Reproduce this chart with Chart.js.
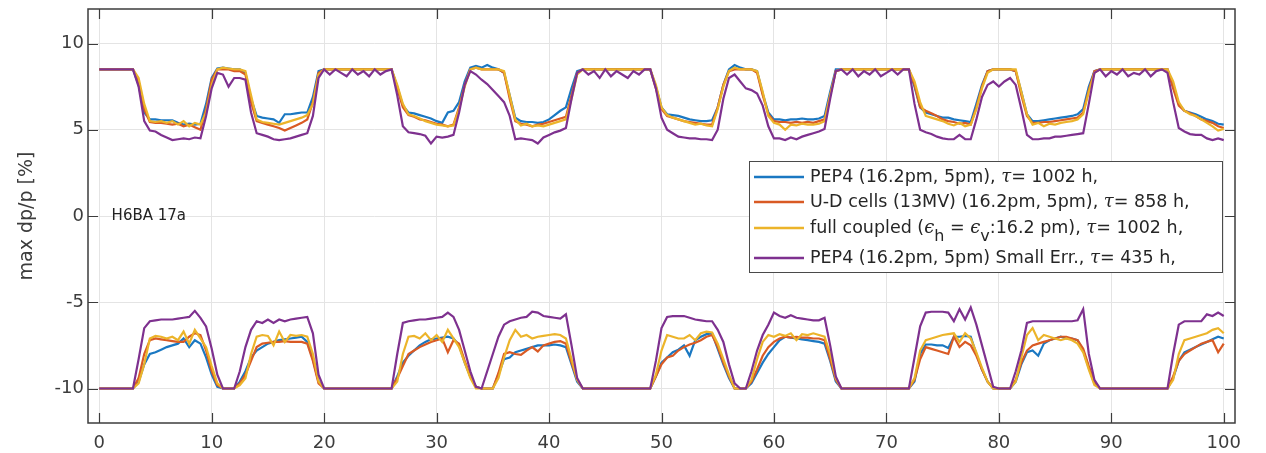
<!DOCTYPE html>
<html>
<head>
<meta charset="utf-8">
<script src="https://cdn.jsdelivr.net/npm/chart.js@4.4.0/dist/chart.umd.min.js"></script>
<style>
  html, body { margin: 0; padding: 0; background: #fff; }
  #wrap { width: 1266px; height: 453px; position: relative; }
</style>
</head>
<body>
<div id="wrap"><canvas id="chart"></canvas></div>
<script>
// Position along the lattice
const positions = [
  0,0.5,1,1.5,2,2.5,3,3.5,4,4.5,5,5.5,6,6.5,7,7.5,8,8.5,9,9.5,
  10,10.5,11,11.5,12,12.5,13,13.5,14,14.5,15,15.5,16,16.5,17,17.5,18,18.5,19,19.5,
  20,20.5,21,21.5,22,22.5,23,23.5,24,24.5,25,25.5,26,26.5,27,27.5,28,28.5,29,29.5,
  30,30.5,31,31.5,32,32.5,33,33.5,34,34.5,35,35.5,36,36.5,37,37.5,38,38.5,39,39.5,
  40,40.5,41,41.5,42,42.5,43,43.5,44,44.5,45,45.5,46,46.5,47,47.5,48,48.5,49,49.5,
  50,50.5,51,51.5,52,52.5,53,53.5,54,54.5,55,55.5,56,56.5,57,57.5,58,58.5,59,59.5,
  60,60.5,61,61.5,62,62.5,63,63.5,64,64.5,65,65.5,66,66.5,67,67.5,68,68.5,69,69.5,
  70,70.5,71,71.5,72,72.5,73,73.5,74,74.5,75,75.5,76,76.5,77,77.5,78,78.5,79,79.5,
  80,80.5,81,81.5,82,82.5,83,83.5,84,84.5,85,85.5,86,86.5,87,87.5,88,88.5,89,89.5,
  90,90.5,91,91.5,92,92.5,93,93.5,94,94.5,95,95.5,96,96.5,97,97.5,98,98.5,99,99.5,
  100
];

const xTicks = [0, 10, 20, 30, 40, 50, 60, 70, 80, 90, 100];
const yTicks = [-10, -5, 0, 5, 10];

const seriesNames = [
  'PEP4 (16.2pm, 5pm), τ= 1002 h,',
  'U-D cells (13MV) (16.2pm, 5pm), τ= 858 h,',
  'full coupled (ϵ_h = ϵ_v:16.2 pm), τ= 1002 h,',
  'PEP4 (16.2pm, 5pm) Small Err., τ= 435 h,'
];
const seriesColors = ['#1a78c2', '#d95a24', '#ecb42a', '#7e318f'];

const plotNote = { x: 1.1, y: 0, text: 'H6BA 17a' };

// positive momentum acceptance
const pep4Upper = [
  8.5,8.5,8.5,8.5,8.5,8.5,8.5,7.6,6.0,5.6,5.6,5.55,5.55,5.55,5.4,5.3,5.35,5.3,5.35,6.5,
  8.0,8.55,8.6,8.55,8.5,8.5,8.3,6.8,5.8,5.7,5.65,5.6,5.4,5.9,5.9,5.95,6.0,6.0,6.9,8.4,
  8.5,8.5,8.5,8.5,8.5,8.5,8.5,8.5,8.5,8.5,8.5,8.5,8.5,7.5,6.4,6.0,5.95,5.85,5.75,5.65,
  5.5,5.4,6.0,6.1,6.6,7.8,8.6,8.7,8.6,8.75,8.6,8.5,8.3,7.0,5.7,5.5,5.45,5.45,5.4,5.45,
  5.6,5.85,6.1,6.3,7.4,8.4,8.5,8.5,8.5,8.5,8.5,8.5,8.5,8.5,8.5,8.5,8.5,8.5,8.5,7.5,
  6.3,5.9,5.85,5.8,5.7,5.6,5.55,5.5,5.5,5.55,6.3,7.6,8.5,8.75,8.6,8.5,8.5,8.4,7.1,6.0,
  5.6,5.6,5.55,5.6,5.6,5.65,5.6,5.6,5.65,5.8,7.2,8.5,8.5,8.5,8.5,8.5,8.5,8.5,8.5,8.5,
  8.5,8.5,8.5,8.5,8.5,7.5,6.3,6.0,5.9,5.8,5.7,5.7,5.6,5.55,5.5,5.45,6.5,7.6,8.4,8.5,
  8.5,8.5,8.5,8.4,7.2,5.9,5.5,5.5,5.55,5.6,5.65,5.7,5.75,5.8,5.9,6.2,7.5,8.4,8.5,8.5,
  8.5,8.5,8.5,8.5,8.5,8.5,8.5,8.5,8.5,8.5,8.5,7.5,6.5,6.1,6.0,5.9,5.75,5.6,5.5,5.35,
  5.3
];
const udCellsUpper = [
  8.5,8.5,8.5,8.5,8.5,8.5,8.5,7.8,6.2,5.45,5.4,5.4,5.35,5.3,5.35,5.2,5.3,5.15,5.0,6.2,
  7.9,8.5,8.5,8.5,8.4,8.4,8.2,6.6,5.5,5.4,5.3,5.2,5.1,4.95,5.1,5.25,5.4,5.6,6.6,8.3,
  8.5,8.5,8.5,8.5,8.5,8.5,8.5,8.5,8.5,8.5,8.5,8.5,8.5,7.4,6.3,5.85,5.75,5.6,5.55,5.45,
  5.35,5.3,5.2,5.3,6.3,7.6,8.5,8.6,8.5,8.5,8.5,8.5,8.3,6.8,5.5,5.35,5.3,5.2,5.3,5.35,
  5.45,5.55,5.65,5.75,7.0,8.3,8.5,8.5,8.5,8.5,8.5,8.5,8.5,8.5,8.5,8.5,8.5,8.5,8.5,7.4,
  6.2,5.8,5.7,5.6,5.5,5.45,5.4,5.35,5.3,5.3,6.3,7.6,8.4,8.5,8.5,8.5,8.5,8.3,7.0,5.9,
  5.5,5.45,5.45,5.4,5.45,5.4,5.45,5.4,5.5,5.6,7.0,8.4,8.5,8.5,8.5,8.5,8.5,8.5,8.5,8.5,
  8.5,8.5,8.5,8.5,8.5,7.6,6.3,6.1,5.95,5.8,5.6,5.5,5.45,5.35,5.4,5.3,6.3,7.5,8.4,8.5,
  8.5,8.5,8.5,8.4,7.0,5.8,5.4,5.4,5.45,5.45,5.5,5.55,5.6,5.65,5.7,6.0,7.3,8.4,8.5,8.5,
  8.5,8.5,8.5,8.5,8.5,8.5,8.5,8.5,8.5,8.5,8.5,7.4,6.4,6.1,5.95,5.8,5.6,5.5,5.4,5.2,
  5.1
];
const fullCoupledUpper = [
  8.5,8.5,8.5,8.5,8.5,8.5,8.5,8.0,6.5,5.5,5.45,5.5,5.4,5.5,5.3,5.5,5.2,5.4,5.3,6.0,
  7.6,8.5,8.6,8.55,8.5,8.5,8.4,7.0,5.6,5.45,5.4,5.35,5.3,5.4,5.5,5.6,5.7,5.85,6.5,8.2,
  8.5,8.5,8.5,8.5,8.5,8.5,8.5,8.5,8.5,8.5,8.5,8.5,8.5,7.6,6.5,5.9,5.8,5.65,5.5,5.4,
  5.3,5.25,5.2,5.25,6.2,7.5,8.5,8.6,8.5,8.5,8.5,8.5,8.4,7.0,5.6,5.25,5.35,5.2,5.25,5.2,
  5.3,5.4,5.5,5.6,6.8,8.2,8.5,8.5,8.5,8.5,8.5,8.5,8.5,8.5,8.5,8.5,8.5,8.5,8.5,7.6,
  6.3,5.85,5.7,5.6,5.5,5.4,5.3,5.35,5.25,5.2,6.2,7.5,8.4,8.6,8.5,8.5,8.5,8.4,7.2,5.8,
  5.4,5.3,5.0,5.3,5.25,5.35,5.3,5.3,5.35,5.5,7.0,8.4,8.5,8.5,8.5,8.5,8.5,8.5,8.5,8.5,
  8.5,8.5,8.5,8.5,8.5,7.8,6.6,5.8,5.7,5.6,5.5,5.35,5.25,5.4,5.2,5.3,6.2,7.4,8.3,8.5,
  8.5,8.5,8.5,8.5,7.2,5.9,5.3,5.4,5.2,5.35,5.3,5.4,5.45,5.5,5.6,5.9,7.2,8.3,8.5,8.5,
  8.5,8.5,8.5,8.5,8.5,8.5,8.5,8.5,8.5,8.5,8.5,7.8,6.6,6.1,5.9,5.8,5.6,5.4,5.2,4.95,
  5.05
];
const smallErrUpper = [
  8.5,8.5,8.5,8.5,8.5,8.5,8.5,7.5,5.5,4.95,4.9,4.7,4.55,4.4,4.45,4.5,4.45,4.55,4.5,5.8,
  7.4,8.3,8.2,7.5,8.0,8.0,7.9,6.0,4.8,4.7,4.6,4.45,4.4,4.45,4.5,4.6,4.7,4.8,5.8,8.0,
  8.5,8.2,8.5,8.3,8.1,8.5,8.2,8.4,8.1,8.5,8.2,8.4,8.5,7.0,5.2,4.85,4.8,4.75,4.65,4.2,
  4.6,4.55,4.6,4.7,6.0,7.6,8.4,8.2,7.9,7.65,7.3,6.95,6.6,5.8,4.45,4.5,4.45,4.4,4.2,4.55,
  4.7,4.85,4.95,5.1,6.8,8.3,8.5,8.2,8.4,8.0,8.5,8.1,8.4,8.2,8.0,8.4,8.2,8.5,8.5,7.4,
  5.7,5.0,4.8,4.6,4.55,4.5,4.5,4.45,4.45,4.4,5.0,6.8,8.0,8.2,7.8,7.4,7.3,7.1,6.4,5.2,
  4.5,4.5,4.4,4.55,4.45,4.6,4.7,4.8,4.9,5.05,6.8,8.4,8.5,8.2,8.5,8.1,8.4,8.2,8.5,8.1,
  8.3,8.5,8.2,8.5,8.5,6.5,5.0,4.85,4.75,4.6,4.5,4.45,4.45,4.7,4.45,4.45,5.6,6.9,7.6,7.8,
  7.5,7.8,8.0,7.6,6.2,4.7,4.45,4.45,4.5,4.5,4.6,4.6,4.65,4.7,4.75,4.8,6.5,8.3,8.5,8.1,
  8.4,8.2,8.5,8.1,8.3,8.2,8.5,8.1,8.4,8.5,8.3,6.6,5.1,4.9,4.75,4.7,4.7,4.5,4.4,4.5,
  4.4
];

// negative momentum acceptance
const pep4Lower = [
  -10,-10,-10,-10,-10,-10,-10,-9.6,-8.6,-8.0,-7.9,-7.75,-7.6,-7.5,-7.4,-7.1,-7.6,-7.2,-7.4,-8.2,
  -9.2,-9.9,-10,-10,-10,-9.6,-9.0,-8.2,-7.8,-7.6,-7.4,-7.3,-7.2,-7.15,-7.1,-7.05,-7.0,-7.3,-8.3,-9.6,
  -10,-10,-10,-10,-10,-10,-10,-10,-10,-10,-10,-10,-10,-9.3,-8.5,-8.1,-7.8,-7.5,-7.3,-7.15,
  -7.1,-7.05,-7.0,-7.1,-7.5,-8.5,-9.3,-9.9,-10,-10,-10,-9.2,-8.3,-8.2,-7.9,-7.8,-7.7,-7.6,-7.5,-7.5,
  -7.5,-7.45,-7.5,-7.6,-8.6,-9.6,-10,-10,-10,-10,-10,-10,-10,-10,-10,-10,-10,-10,-10,-9.3,
  -8.5,-8.2,-7.9,-7.75,-7.5,-8.1,-7.2,-7.0,-6.85,-6.8,-7.7,-8.6,-9.4,-10,-10,-10,-9.7,-9.1,-8.5,-8.0,
  -7.6,-7.2,-7.0,-7.05,-7.1,-7.15,-7.2,-7.25,-7.3,-7.4,-8.4,-9.6,-10,-10,-10,-10,-10,-10,-10,-10,
  -10,-10,-10,-10,-10,-9.6,-8.0,-7.45,-7.45,-7.5,-7.5,-7.65,-7.0,-7.0,-6.95,-7.0,-8.0,-8.9,-9.6,-10,
  -10,-10,-10,-9.6,-8.6,-7.9,-7.8,-8.1,-7.4,-7.2,-7.1,-7.0,-7.1,-7.1,-7.2,-7.8,-8.8,-9.7,-10,-10,
  -10,-10,-10,-10,-10,-10,-10,-10,-10,-10,-10,-9.4,-8.4,-7.9,-7.75,-7.6,-7.45,-7.3,-7.15,-7.0,
  -7.1
];
const udCellsLower = [
  -10,-10,-10,-10,-10,-10,-10,-9.4,-8.0,-7.2,-7.1,-7.15,-7.2,-7.25,-7.3,-7.3,-7.0,-6.8,-6.9,-7.8,
  -9.0,-9.8,-10,-10,-10,-9.7,-9.2,-8.4,-7.6,-7.4,-7.35,-7.3,-7.3,-7.25,-7.3,-7.3,-7.3,-7.4,-8.4,-9.7,
  -10,-10,-10,-10,-10,-10,-10,-10,-10,-10,-10,-10,-10,-9.4,-8.7,-8.0,-7.8,-7.6,-7.45,-7.3,
  -7.2,-7.1,-7.9,-7.2,-7.4,-8.4,-9.3,-9.9,-10,-10,-10,-9.1,-8.0,-7.9,-8.0,-8.05,-7.8,-7.6,-7.85,-7.5,
  -7.4,-7.3,-7.25,-7.4,-8.5,-9.5,-10,-10,-10,-10,-10,-10,-10,-10,-10,-10,-10,-10,-10,-9.3,
  -8.6,-8.2,-8.1,-7.8,-7.6,-7.45,-7.35,-7.2,-7.0,-6.9,-7.6,-8.5,-9.3,-10,-10,-10,-9.6,-8.9,-8.1,-7.6,
  -7.3,-7.1,-7.0,-7.05,-7.0,-7.05,-7.05,-7.1,-7.1,-7.2,-8.3,-9.5,-10,-10,-10,-10,-10,-10,-10,-10,
  -10,-10,-10,-10,-10,-9.5,-8.3,-7.6,-7.7,-7.8,-7.9,-8.0,-7.0,-7.6,-7.3,-7.5,-8.1,-8.9,-9.6,-10,
  -10,-10,-10,-9.5,-8.5,-7.8,-7.5,-7.4,-7.3,-7.2,-7.1,-7.0,-7.0,-7.1,-7.2,-7.7,-8.7,-9.6,-10,-10,
  -10,-10,-10,-10,-10,-10,-10,-10,-10,-10,-10,-9.3,-8.4,-8.0,-7.8,-7.6,-7.4,-7.3,-7.2,-7.9,
  -7.4
];
const fullCoupledLower = [
  -10,-10,-10,-10,-10,-10,-10,-9.7,-8.6,-7.1,-6.95,-7.0,-7.1,-7.0,-7.2,-6.7,-7.4,-6.6,-7.1,-7.6,
  -8.7,-9.7,-10,-10,-10,-9.8,-9.4,-8.0,-7.0,-6.9,-6.95,-7.5,-6.7,-7.3,-6.9,-6.95,-6.9,-7.0,-8.0,-9.6,
  -10,-10,-10,-10,-10,-10,-10,-10,-10,-10,-10,-10,-10,-9.6,-8.0,-7.0,-6.95,-7.1,-6.8,-7.2,
  -6.9,-7.3,-6.6,-7.1,-7.6,-8.5,-9.4,-10,-10,-10,-10,-9.4,-8.2,-7.2,-6.6,-7.0,-6.9,-7.1,-7.0,-6.95,
  -6.9,-6.85,-6.9,-7.1,-8.3,-9.5,-10,-10,-10,-10,-10,-10,-10,-10,-10,-10,-10,-10,-10,-9.2,
  -7.8,-6.9,-7.0,-7.1,-7.1,-6.9,-7.2,-6.8,-6.7,-6.75,-7.4,-8.3,-9.2,-10,-10,-10,-9.5,-8.3,-7.3,-6.9,
  -7.0,-6.85,-6.95,-6.8,-7.2,-6.85,-6.9,-6.8,-6.9,-7.0,-8.0,-9.4,-10,-10,-10,-10,-10,-10,-10,-10,
  -10,-10,-10,-10,-10,-9.4,-7.8,-7.2,-7.1,-7.0,-6.9,-6.85,-6.8,-7.3,-6.8,-7.1,-7.9,-8.8,-9.6,-10,
  -10,-10,-10,-9.6,-8.2,-6.9,-6.5,-7.2,-6.9,-7.0,-7.1,-7.2,-7.1,-7.2,-7.4,-7.9,-8.9,-9.8,-10,-10,
  -10,-10,-10,-10,-10,-10,-10,-10,-10,-10,-10,-9.5,-8.0,-7.2,-7.1,-7.0,-6.9,-6.8,-6.6,-6.5,
  -6.8
];
const smallErrLower = [
  -10,-10,-10,-10,-10,-10,-10,-8.3,-6.5,-6.1,-6.05,-6.0,-6.0,-6.0,-5.95,-5.9,-5.85,-5.5,-5.9,-6.4,
  -7.7,-9.2,-10,-10,-10,-9.0,-7.6,-6.6,-6.1,-6.2,-6.0,-6.2,-6.0,-6.1,-6.0,-5.95,-5.9,-5.85,-6.8,-9.2,
  -10,-10,-10,-10,-10,-10,-10,-10,-10,-10,-10,-10,-10,-8.0,-6.2,-6.1,-6.05,-6.0,-6.0,-5.95,
  -5.9,-5.85,-5.6,-5.85,-6.6,-7.8,-9.0,-9.9,-10,-9.0,-8.0,-7.0,-6.3,-6.1,-6.0,-5.9,-5.85,-5.55,-5.6,-5.8,
  -5.85,-5.9,-5.95,-5.7,-7.5,-9.4,-10,-10,-10,-10,-10,-10,-10,-10,-10,-10,-10,-10,-10,-8.4,
  -6.5,-5.85,-5.8,-5.8,-5.8,-5.9,-6.0,-6.05,-6.1,-6.1,-6.6,-7.3,-8.6,-9.7,-10,-10,-9.0,-7.8,-6.9,-6.3,
  -5.6,-5.8,-5.9,-5.75,-5.9,-5.95,-6.0,-6.05,-6.05,-5.9,-7.5,-9.3,-10,-10,-10,-10,-10,-10,-10,-10,
  -10,-10,-10,-10,-10,-8.2,-6.4,-5.6,-5.55,-5.55,-5.55,-5.6,-6.1,-5.4,-6.0,-5.3,-6.3,-7.5,-8.7,-9.9,
  -10,-10,-10,-9.0,-7.8,-6.2,-6.1,-6.1,-6.1,-6.1,-6.1,-6.1,-6.1,-6.1,-6.05,-5.4,-8.0,-9.5,-10,-10,
  -10,-10,-10,-10,-10,-10,-10,-10,-10,-10,-10,-8.0,-6.3,-6.1,-6.1,-6.1,-6.1,-5.7,-5.8,-5.6,
  -5.8
];

const upperSeries = [pep4Upper, udCellsUpper, fullCoupledUpper, smallErrUpper];
const lowerSeries = [pep4Lower, udCellsLower, fullCoupledLower, smallErrLower];

const FONT = '"DejaVu Sans", "Liberation Sans", sans-serif';
const AXIS_COLOR = '#3c3c3c';

function toPoints(values) {
  return positions.map((p, i) => ({ x: p, y: values[i] }));
}

const datasets = [];
[upperSeries, lowerSeries].forEach((group) => {
  group.forEach((values, i) => {
    datasets.push({
      label: seriesNames[i],
      data: toPoints(values),
      borderColor: seriesColors[i],
      backgroundColor: seriesColors[i],
      borderWidth: 2.2,
      pointRadius: 0,
      tension: 0,
      order: 4 - i          // later series drawn on top, like the original
    });
  });
});

// box with inward ticks on all four sides
const frameTicks = {
  id: 'frameTicks',
  afterDatasetsDraw(chart) {
    const { ctx, chartArea: a, scales: { x, y } } = chart;
    const len = 10;
    ctx.save();
    ctx.strokeStyle = AXIS_COLOR;
    ctx.lineWidth = 1.5;
    ctx.strokeRect(a.left, a.top, a.right - a.left, a.bottom - a.top);
    ctx.beginPath();
    xTicks.forEach(v => {
      const px = Math.round(x.getPixelForValue(v)) + 0.5;
      ctx.moveTo(px, a.bottom); ctx.lineTo(px, a.bottom - len);
      ctx.moveTo(px, a.top); ctx.lineTo(px, a.top + len);
    });
    yTicks.forEach(v => {
      const py = Math.round(y.getPixelForValue(v)) + 0.5;
      ctx.moveTo(a.left, py); ctx.lineTo(a.left + len, py);
      ctx.moveTo(a.right, py); ctx.lineTo(a.right - len, py);
    });
    ctx.lineWidth = 1.2;
    ctx.stroke();

    // annotation text
    ctx.fillStyle = '#222';
    ctx.font = '15px ' + FONT;
    ctx.textBaseline = 'middle';
    ctx.textAlign = 'left';
    ctx.fillText(plotNote.text, x.getPixelForValue(plotNote.x), y.getPixelForValue(plotNote.y));
    ctx.restore();
  }
};

// draw a label where '_c' is a subscript and greek letters are italic serif
function drawLabel(ctx, text, x, y) {
  const normal = '17.5px ' + FONT;
  const greek = 'italic 18px "DejaVu Serif", serif';
  const sub = '16px ' + FONT;
  let buf = '';
  const flush = () => {
    if (!buf) return;
    ctx.font = normal;
    ctx.fillText(buf, x, y);
    x += ctx.measureText(buf).width;
    buf = '';
  };
  for (let i = 0; i < text.length; i++) {
    const ch = text[i];
    if (ch === '_') {
      flush();
      ctx.font = sub;
      ctx.fillText(text[i + 1], x, y + 9);
      x += ctx.measureText(text[i + 1]).width;
      i++;
    } else if (ch === 'τ' || ch === 'ϵ') {
      flush();
      ctx.font = greek;
      ctx.fillText(ch, x, y);
      x += ctx.measureText(ch).width;
    } else {
      buf += ch;
    }
  }
  flush();
}

const boxLegend = {
  id: 'boxLegend',
  afterDraw(chart) {
    const { ctx, chartArea: a } = chart;
    const right = a.right - 13, left = right - 473, top = a.top + 152, bottom = top + 111;
    const rows = [16, 41, 67, 97];
    ctx.save();
    ctx.fillStyle = '#fff';
    ctx.fillRect(left, top, right - left, bottom - top);
    ctx.strokeStyle = '#4a4a4a';
    ctx.lineWidth = 1;
    ctx.strokeRect(left + 0.5, top + 0.5, right - left, bottom - top);
    ctx.textBaseline = 'middle';
    ctx.textAlign = 'left';
    seriesNames.forEach((name, i) => {
      const yy = top + rows[i];
      ctx.strokeStyle = seriesColors[i];
      ctx.lineWidth = 2.5;
      ctx.beginPath();
      ctx.moveTo(left + 5, yy);
      ctx.lineTo(left + 55, yy);
      ctx.stroke();
      ctx.fillStyle = '#262626';
      drawLabel(ctx, name, left + 61, yy);
    });
    ctx.restore();
  }
};

const noEdgePadding = s => { s.paddingTop = 0; s.paddingBottom = 0; s.paddingLeft = 0; s.paddingRight = 0; };

new Chart(document.getElementById('chart'), {
  type: 'line',
  data: { datasets },
  options: {
    responsive: true,
    maintainAspectRatio: false,
    animation: false,
    layout: { padding: { top: 9, right: 31, left: 0, bottom: 0 } },
    plugins: {
      legend: { display: false },
      tooltip: { enabled: false }
    },
    scales: {
      x: {
        type: 'linear',
        min: -1,
        max: 101,
        afterBuildTicks: s => { s.ticks = xTicks.map(v => ({ value: v })); },
        afterFit: s => { s.height = 30; noEdgePadding(s); },
        grid: { color: '#e4e4e4', lineWidth: 1, drawTicks: false },
        border: { display: false },
        ticks: {
          padding: 10,
          maxRotation: 0,
          autoSkip: false,
          color: AXIS_COLOR,
          font: { family: FONT, size: 18 }
        }
      },
      y: {
        type: 'linear',
        min: -12,
        max: 12,
        afterBuildTicks: s => { s.ticks = yTicks.map(v => ({ value: v })); },
        afterFit: s => { s.width = 88; noEdgePadding(s); },
        grid: { color: '#e4e4e4', lineWidth: 1, drawTicks: false },
        border: { display: false },
        ticks: {
          padding: 4,
          color: AXIS_COLOR,
          font: { family: FONT, size: 18 }
        },
        title: {
          display: true,
          text: 'max dp/p [%]',
          color: AXIS_COLOR,
          font: { family: FONT, size: 19 },
          padding: { top: 16, bottom: 0 }
        }
      }
    }
  },
  plugins: [frameTicks, boxLegend]
});
</script>
</body>
</html>
